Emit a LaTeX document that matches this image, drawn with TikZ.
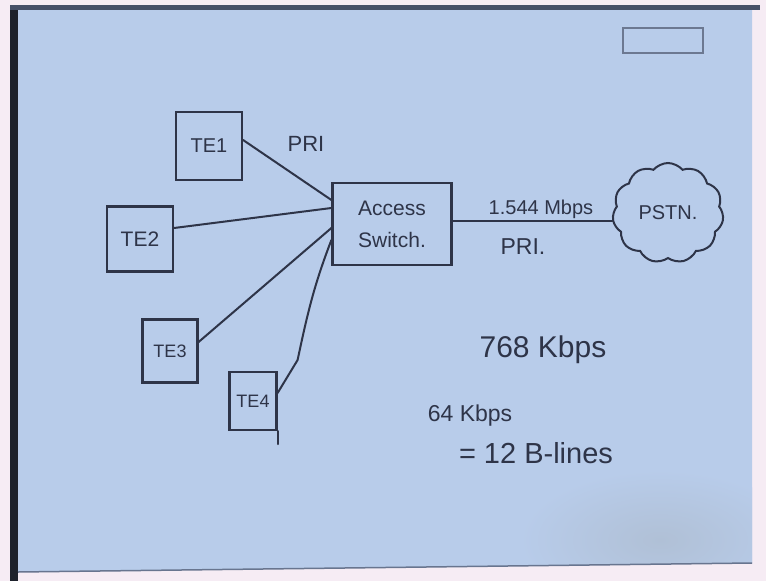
\documentclass[tikz,border=0pt]{standalone}
\usepackage{fontspec}
\setmainfont{Liberation Sans}
\usetikzlibrary{shapes.symbols}
\definecolor{paper}{RGB}{184,204,234}
\definecolor{ink}{RGB}{46,52,72}
\definecolor{frame}{RGB}{30,34,44}
\definecolor{topband}{RGB}{70,80,104}
\definecolor{pagewhite}{RGB}{246,236,244}
\definecolor{shadow}{RGB}{176,192,214}
\tikzset{
  tebox/.style={draw=ink, line width=2.2pt, inner sep=0pt, text=ink, font=\fontsize{20}{22}\selectfont},
  wire/.style={draw=ink, line width=2pt, line cap=round},
  lbl/.style={text=ink, inner sep=0pt}
}
\begin{document}
\begin{tikzpicture}[x=1pt,y=-1pt]
\useasboundingbox (0,0) rectangle (766,581);
\fill[pagewhite] (0,0) rectangle (766,581);
\fill[frame] (10,5) rectangle (18,581);
\fill[topband] (10,5) rectangle (760,10);
\fill[paper] (18,10) -- (752,10) -- (752,563) -- (18,572) -- cycle;
\begin{scope}
  \clip (18,10) -- (752,10) -- (752,563) -- (18,572) -- cycle;
  \shade[inner color=shadow, outer color=paper] (660,540) ellipse [x radius=140, y radius=70];
\end{scope}
\draw[topband!70!paper, line width=1.5pt] (18,572) -- (752,563);
% stamp
\draw[ink!55!paper, line width=1.4pt] (623,28) rectangle (703,53);
% nodes
\node[tebox, minimum width=66, minimum height=68] (te1) at (209,146) {TE1};
\node[tebox, minimum width=66, minimum height=65, font=\fontsize{21}{22}\selectfont] (te2) at (140,239) {TE2};
\node[tebox, minimum width=55, minimum height=63, font=\fontsize{18}{20}\selectfont] (te3) at (170,351) {TE3};
\node[tebox, minimum width=47, minimum height=58, font=\fontsize{18}{20}\selectfont] (te4) at (253,401) {TE4};
\node[tebox, minimum width=119, minimum height=82, align=center, font=\fontsize{21}{32}\selectfont] (access) at (392,224) {Access\\Switch.};
\node[cloud, cloud puffs=11, cloud puff arc=100, aspect=1.1, draw=ink, line width=2pt, minimum width=111, minimum height=100, inner sep=0pt, text=ink, font=\fontsize{20}{22}\selectfont] (pstn) at (668,213) {PSTN.};
% connectors
\draw[wire] ([yshift=6pt]te1.east) -- ([yshift=24pt]access.west);
\draw[wire] ([yshift=11pt]te2.east) -- ([yshift=16pt]access.west);
\draw[wire] ([yshift=9pt]te3.east) -- ([yshift=-4pt]access.west);
\draw[wire] ([yshift=8pt]te4.east) -- ++(20,-33) to[out=78,in=249] ([yshift=-16pt]access.west);
\draw[wire] (te4.south east) -- ++(0,13);
\draw[wire] ([yshift=3pt]access.east) -- ([yshift=3pt]access.east -| pstn.west);
% labels
\node[lbl, font=\fontsize{22}{24}\selectfont] (pri1) at (306,144) {PRI};
\node[lbl, font=\fontsize{20}{22}\selectfont] (rate) at (541,209) {1.544 Mbps};
\node[lbl, font=\fontsize{23}{24}\selectfont] (pri2) at (523,247) {PRI.};
\node[lbl, font=\fontsize{30}{32}\selectfont] (k768) at (543,350) {768 Kbps};
\node[lbl, font=\fontsize{23}{24}\selectfont] (k64) at (470,416) {64 Kbps};
\node[lbl, font=\fontsize{29}{30}\selectfont] (blines) at (536,453) {= 12 B-lines};
\end{tikzpicture}
\end{document}
